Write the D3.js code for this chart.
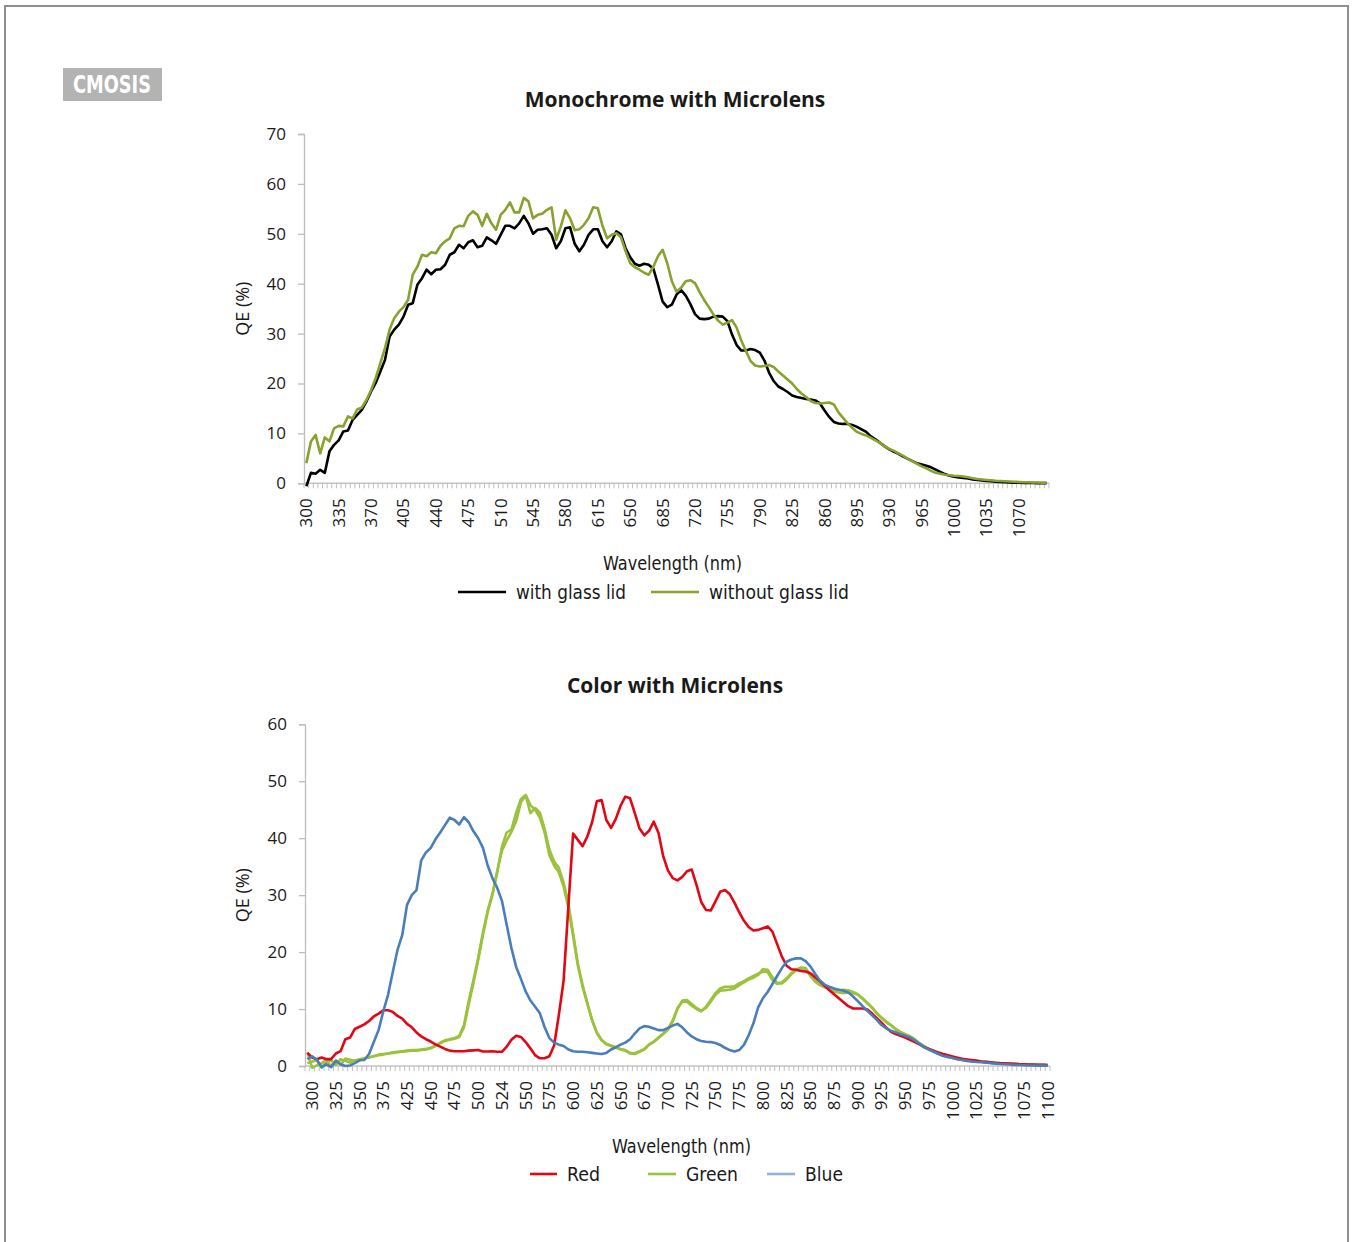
<!DOCTYPE html>
<html>
<head>
<meta charset="utf-8">
<script src="https://cdn.jsdelivr.net/npm/d3@7"></script>
<style>
body { margin: 0; background: #fff; }
text { font-family: "Open Sans", "DejaVu Sans", sans-serif; fill: #1a1a1a; }
.cond { font-family: "Liberation Sans Narrow", "DejaVu Sans Condensed", "Liberation Sans", sans-serif; }
</style>
</head>
<body>
<svg id="page" width="1352" height="1242"></svg>
<script>
// ---- data ----

// monochrome chart: wavelength categories every 5 nm, 300..1100
var monoWl = d3.range(300, 1101, 5);
var monoTickLabels = ["300","335","370","405","440","475","510","545","580","615","650","685","720","755","790","825","860","895","930","965","1000","1035","1070"];

var withLid = [-0.6,2.1,1.9,2.7,2.1,6.4,7.7,8.6,10.4,10.6,
12.7,13.7,14.7,16.4,18.4,20.1,22.4,24.7,29.4,30.8,
31.8,33.4,35.8,36.1,39.8,41.1,42.8,41.9,42.8,42.9,
43.8,45.8,46.3,47.8,47.1,48.3,48.7,47.3,47.6,49.3,
48.7,48.0,49.8,51.6,51.6,51.1,52.1,53.6,52.1,50.0,
50.8,50.9,51.1,49.8,47.1,48.5,51.1,51.3,48.0,46.5,
47.8,49.8,50.9,50.9,48.5,47.3,48.5,50.5,49.9,47.1,
45.3,44.0,43.6,44.0,43.8,43.0,39.8,36.4,35.3,35.8,
37.8,38.7,37.6,35.9,33.9,33.0,32.9,33.0,33.4,33.5,
33.4,32.5,29.8,27.7,26.6,26.6,26.9,26.7,26.2,24.6,
22.2,20.5,19.4,18.9,18.3,17.6,17.3,17.1,16.9,16.8,
16.6,16.0,14.6,13.3,12.3,12.0,11.9,11.9,11.7,11.3,
10.8,10.3,9.4,8.8,8.1,7.4,6.8,6.3,5.9,5.35,
4.9,4.45,4.0,3.75,3.5,3.2,2.75,2.3,1.85,1.5,
1.3,1.15,1.05,0.95,0.78,0.65,0.55,0.47,0.4,0.32,
0.26,0.2,0.15,0.12,0.1,0.08,0.06,0.05,0.03,0.02,
0.01];

var withoutLid = [4.0,8.4,9.7,6.0,9.2,8.4,11.0,11.5,11.4,13.4,
13.0,14.8,15.2,16.7,18.7,21.1,24.1,27.1,30.8,33.1,
34.4,35.3,36.8,41.8,43.4,45.8,45.5,46.3,46.1,47.6,
48.5,49.1,51.1,51.6,51.5,53.6,54.5,53.8,51.6,54.0,
52.1,50.8,53.8,54.8,56.3,54.3,54.3,57.2,56.5,53.1,
53.8,54.0,54.8,55.3,48.8,51.5,54.7,53.1,50.7,50.9,
51.8,53.1,55.3,55.1,51.6,49.1,49.8,50.1,49.3,46.5,
44.1,43.3,42.8,42.2,41.8,43.4,45.5,46.8,44.1,40.5,
38.4,39.2,40.5,40.7,40.1,38.3,36.7,35.3,33.8,32.6,
31.8,32.2,32.7,31.2,28.6,26.5,24.5,23.6,23.4,23.5,
23.7,23.3,22.4,21.6,20.8,20.0,18.9,18.0,17.3,16.5,
16.1,16.0,16.1,16.2,15.8,14.2,13.1,12.0,11.1,10.3,
9.9,9.6,9.1,8.6,8.1,7.4,6.9,6.5,6.0,5.5,
4.9,4.4,3.9,3.4,3.0,2.5,2.1,1.9,1.7,1.6,
1.5,1.45,1.35,1.2,1.0,0.85,0.75,0.67,0.6,0.5,
0.45,0.4,0.35,0.3,0.27,0.22,0.2,0.17,0.15,0.14,
0.13];

// color chart: first category is unlabeled, steps are not all 5 nm
var colorWl = [""].concat(d3.range(300, 376, 5), [385, 395, 405, 415], d3.range(425, 521, 5), [524], d3.range(530, 1101, 5));

var red = [2.3,1.5,1.2,1.5,1.2,1.2,2.2,2.6,4.7,5.0,
6.5,6.9,7.3,7.9,8.7,9.2,9.8,9.8,9.5,8.8,
8.3,7.4,6.8,5.9,5.2,4.7,4.3,3.8,3.4,3.0,
2.7,2.6,2.6,2.6,2.7,2.75,2.8,2.55,2.55,2.6,
2.5,2.5,3.4,4.6,5.3,5.1,4.2,3.1,1.9,1.35,
1.35,1.7,3.6,9.0,15.0,28.0,40.8,39.7,38.6,40.3,
42.8,46.5,46.7,43.2,41.8,43.4,45.7,47.3,47.0,44.4,
41.7,40.5,41.3,42.9,40.9,36.8,34.3,33.0,32.6,33.2,
34.2,34.5,31.8,28.8,27.4,27.3,28.9,30.6,30.9,30.2,
28.7,27.0,25.5,24.4,23.8,23.9,24.2,24.5,23.6,21.4,
19.2,17.6,17.0,16.9,16.7,16.6,16.3,15.6,14.9,14.1,
13.3,12.6,11.9,11.2,10.5,10.1,10.1,10.1,9.9,9.2,
8.4,7.6,6.7,6.0,5.6,5.3,5.0,4.6,4.2,3.8,
3.3,3.0,2.7,2.35,2.1,1.9,1.65,1.45,1.25,1.15,
1.05,0.95,0.8,0.72,0.65,0.58,0.52,0.48,0.44,0.4,
0.34,0.3,0.27,0.25,0.22,0.2,0.18];

var green1 = [2.4,-0.3,0.1,0.5,1.0,0.0,1.0,0.2,1.3,1.1,
0.9,1.2,1.35,1.55,1.7,2.0,2.1,2.2,2.4,2.5,
2.6,2.7,2.8,2.8,2.9,3.0,3.2,3.6,4.1,4.5,
4.7,4.9,5.3,7.2,11.4,15.1,19.0,23.5,27.3,30.3,
34.2,37.8,39.6,41.1,43.0,46.3,47.5,44.4,45.3,44.5,
41.6,38.0,35.9,34.8,32.2,28.6,23.3,18.0,14.2,11.1,
8.1,5.9,4.6,3.9,3.6,3.3,3.0,2.8,2.3,2.2,
2.6,3.0,3.8,4.3,5.0,5.7,6.5,8.0,10.2,11.3,
11.3,10.6,10.0,9.6,10.4,11.6,12.8,13.6,13.9,13.9,
14.0,14.5,14.9,15.4,15.8,16.2,16.6,16.5,15.1,14.4,
14.7,15.4,16.3,16.9,17.3,17.2,16.0,15.0,14.4,14.0,
13.6,13.1,12.9,12.8,12.9,12.8,12.5,11.8,11.0,10.2,
9.25,8.4,7.7,7.1,6.4,5.9,5.5,5.2,4.6,3.9,
3.4,2.9,2.5,2.15,1.85,1.6,1.4,1.2,1.05,0.94,
0.87,0.8,0.75,0.7,0.6,0.52,0.47,0.42,0.38,0.34,
0.3,0.26,0.23,0.21,0.2,0.19,0.18];

var green2 = [0.5,0.8,1.0,-0.3,0.8,1.0,0.2,1.2,0.9,0.6,
1.0,1.1,1.3,1.5,1.7,1.9,2.0,2.2,2.3,2.4,
2.5,2.6,2.7,2.7,2.8,2.9,3.1,3.5,4.0,4.4,
4.6,4.8,5.1,6.8,10.8,14.6,18.6,23.0,27.0,30.0,
34.0,38.5,41.0,41.5,44.5,46.9,47.6,45.8,45.0,43.6,
41.0,37.0,35.2,34.0,31.5,27.8,22.8,17.6,13.9,10.9,
8.0,5.8,4.5,3.8,3.5,3.2,2.9,2.7,2.2,2.1,
2.5,2.9,3.7,4.2,4.9,5.6,6.4,7.8,10.0,11.5,
11.6,10.9,10.2,9.7,10.2,11.3,12.5,13.2,13.3,13.4,
13.6,14.2,14.7,15.2,15.5,16.0,17.0,16.9,15.6,14.6,
14.5,15.2,16.1,16.8,17.2,17.1,15.8,14.8,14.2,13.8,
13.8,13.4,13.3,13.4,13.3,13.0,12.6,11.9,11.1,10.3,
9.3,8.5,7.8,7.2,6.5,6.0,5.6,5.2,4.7,4.0,
3.5,3.0,2.6,2.2,1.9,1.65,1.45,1.25,1.1,0.97,
0.9,0.82,0.77,0.72,0.62,0.54,0.48,0.43,0.39,0.35,
0.31,0.27,0.24,0.22,0.2,0.19,0.18];

var blue = [1.2,1.7,1.1,-0.2,0.3,-0.2,0.9,0.3,0.0,0.1,
0.5,1.0,1.05,2.1,4.2,6.3,9.6,12.5,16.5,20.4,
23.0,28.3,30.0,30.9,36.1,37.5,38.3,39.8,41.0,42.3,
43.6,43.2,42.4,43.7,42.8,41.2,40.0,38.3,35.2,33.0,
31.3,29.0,24.8,20.7,17.4,15.3,13.1,11.5,10.4,9.25,
6.8,4.9,4.1,3.75,3.5,2.9,2.6,2.5,2.5,2.4,
2.3,2.2,2.1,2.3,2.9,3.3,3.75,4.1,4.7,5.7,
6.6,7.0,6.9,6.6,6.3,6.3,6.7,7.1,7.4,6.8,
5.9,5.2,4.7,4.4,4.25,4.2,4.05,3.7,3.2,2.8,
2.55,2.8,3.7,5.4,7.5,10.3,11.9,13.0,14.4,15.8,
17.2,18.3,18.7,18.9,18.9,18.4,17.5,16.2,15.0,14.3,
13.9,13.6,13.4,13.2,12.9,12.2,11.4,10.5,9.7,8.9,
8.1,7.2,6.6,6.2,5.9,5.6,5.3,5.0,4.5,3.9,
3.3,2.9,2.5,2.1,1.75,1.6,1.4,1.2,1.05,0.9,
0.8,0.7,0.65,0.6,0.5,0.42,0.35,0.3,0.25,0.2,
0.17,0.13,0.1,0.08,0.07,0.06,0.05];

var monoYTicks = [0,10,20,30,40,50,60,70];
var colorYTicks = [0,10,20,30,40,50,60];

// ---- drawing ----
var svg = d3.select("#page");

// page frame
svg.append("path")
    .attr("d", "M5,1242V6H1348V1242")
    .attr("fill", "none")
    .attr("stroke", "#8f8f8f")
    .attr("stroke-width", 2);

// logo
svg.append("rect").attr("x", 63).attr("y", 68).attr("width", 99).attr("height", 33).attr("fill", "#b3b3b3");
svg.append("text").attr("class", "cond")
    .attr("x", 73).attr("y", 93)
    .attr("textLength", 78).attr("lengthAdjust", "spacingAndGlyphs")
    .style("font-size", "25px").style("font-weight", "bold").style("fill", "#fff")
    .text("CMOSIS");

// narrow text: the original uses a condensed face, squeeze to the measured width
function narrow(sel, w) {
    sel.attr("class", "cond").attr("textLength", w).attr("lengthAdjust", "spacingAndGlyphs");
}

function chart(opt) {
    var g = svg.append("g");
    var n = opt.cats.length;
    var x = d3.scaleBand().domain(d3.range(n)).range([opt.x0, opt.x1]);
    var y = d3.scaleLinear().domain([0, opt.ymax]).range([opt.y0, opt.y1]);
    var bw = x.bandwidth();

    g.append("text")
        .attr("x", 675).attr("y", opt.titleY)
        .attr("text-anchor", "middle")
        .style("font-size", "21px").style("font-weight", "bold")
        .text(opt.title);

    // y axis
    var ya = g.append("g").attr("transform", "translate(" + opt.x0 + ",0)")
        .call(d3.axisLeft(y).tickValues(opt.yTicks).tickSize(6).tickPadding(12));
    ya.select(".domain").attr("stroke", "#bdbdbd").attr("stroke-width", 1.3);
    ya.selectAll(".tick line").attr("stroke", "#bdbdbd").attr("stroke-width", 1.3);
    ya.selectAll(".tick text").attr("font-family", null).style("font-size", "17px").style("fill", "#1a1a1a");

    g.append("text")
        .attr("transform", "translate(249," + ((opt.y0 + opt.y1) / 2) + ") rotate(-90)")
        .attr("text-anchor", "middle")
        .style("font-size", "18px")
        .text("QE (%)");

    // x axis: tick marks between categories
    g.append("line")
        .attr("x1", opt.x0).attr("x2", opt.x1)
        .attr("y1", opt.y0).attr("y2", opt.y0)
        .attr("stroke", "#c4c4c4").attr("stroke-width", 1.5);
    g.selectAll(".xt").data(d3.range(n + 1)).enter().append("line")
        .attr("x1", function(i) { return i < n ? x(i) : x(n - 1) + bw; })
        .attr("x2", function(i) { return i < n ? x(i) : x(n - 1) + bw; })
        .attr("y1", opt.y0).attr("y2", opt.y0 + 5)
        .attr("stroke", "#b0b0b0").attr("stroke-width", 0.8);

    g.selectAll(".xl").data(opt.labelIdx).enter().append("text")
        .attr("transform", function(i) { return "translate(" + (x(i) + bw / 2) + "," + (opt.y0 + 15) + ") rotate(-90)"; })
        .attr("text-anchor", "end")
        .attr("dy", "0.35em")
        .style("font-size", "17px")
        .text(function(i) { return opt.labelText(i); });

    g.append("text")
        .attr("x", opt.xTitleX - 70).attr("y", opt.y0 + 87)
        .style("font-size", "20px")
        .text("Wavelength (nm)")
        .call(narrow, 139);

    var line = d3.line()
        .x(function(d, i) { return x(i) + bw / 2; })
        .y(function(d) { return y(d); });

    opt.series.forEach(function(s) {
        g.append("path")
            .datum(s.values)
            .attr("fill", "none")
            .attr("stroke", s.color)
            .attr("stroke-width", 2.6)
            .attr("stroke-linejoin", "round")
            .attr("d", line);
    });

    // legend
    opt.legend.forEach(function(l) {
        g.append("line")
            .attr("x1", l.x).attr("x2", l.x + l.len)
            .attr("y1", opt.legendY).attr("y2", opt.legendY)
            .attr("stroke", l.color).attr("stroke-width", 2.6);
        g.append("text")
            .attr("x", l.x + l.len + 10).attr("y", opt.legendY + 7)
            .style("font-size", "20px")
            .text(l.name)
            .call(narrow, l.tw);
    });
}

chart({
    title: "Monochrome with Microlens",
    titleY: 107,
    cats: monoWl,
    x0: 304, x1: 1049, y0: 483.3, y1: 134, ymax: 70,
    yTicks: monoYTicks,
    labelIdx: monoTickLabels.map(function(t) { return monoWl.indexOf(+t); }),
    labelText: function(i) { return monoTickLabels[i / 7]; },
    xTitleX: 673,
    series: [
        { values: withLid, color: "#000000" },
        { values: withoutLid, color: "#87a22f" }
    ],
    legendY: 592,
    legend: [
        { name: "with glass lid", color: "#000000", x: 458, len: 48, tw: 110 },
        { name: "without glass lid", color: "#87a22f", x: 651, len: 48, tw: 140 }
    ]
});

chart({
    title: "Color with Microlens",
    titleY: 693,
    cats: colorWl,
    x0: 305, x1: 1050, y0: 1066, y1: 724.3, ymax: 60,
    yTicks: colorYTicks,
    labelIdx: d3.range(1, colorWl.length, 5),
    labelText: function(i) { return String(colorWl[i]); },
    xTitleX: 682,
    series: [
        { values: green1, color: "#9bc23c" },
        { values: green2, color: "#9bc23c" },
        { values: red, color: "#e30614" },
        { values: blue, color: "#4a7ebb" }
    ],
    legendY: 1174,
    legend: [
        { name: "Red", color: "#e30614", x: 530, len: 27, tw: 33 },
        { name: "Green", color: "#9bc23c", x: 648, len: 28, tw: 52 },
        { name: "Blue", color: "#95b3d7", x: 767, len: 28, tw: 38 }
    ]
});
</script>
</body>
</html>
